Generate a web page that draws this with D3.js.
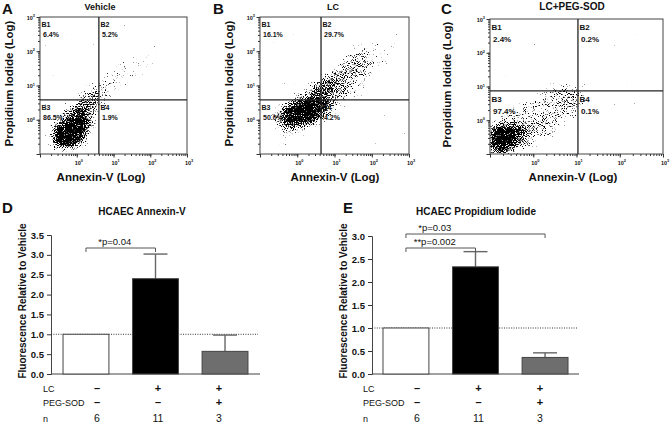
<!DOCTYPE html>
<html lang="en">
<head>
<meta charset="UTF-8">
<title>HCAEC Annexin-V / Propidium Iodide</title>
<script src="https://d3js.org/d3.v7.min.js"></script>
<style>
  body { margin: 0; background: #fff; }
  svg text { font-family: "Liberation Sans", Arial, sans-serif; fill: #111; }
  .tick line { stroke: #333; }
</style>
</head>
<body>
<svg id="fig" width="670" height="424"></svg>
<script>
// ---------- flow cytometry panels (A-C) ----------
const flowTitles = ["Vehicle", "LC", "LC+PEG-SOD"];
const flowLetters = ["A", "B", "C"];
// gate position: [Annexin-V, Propidium Iodide]
const gates = [[4.0, 3.8], [4.35, 3.8], [10.8, 7.4]];
// quadrant percentages B1, B2, B3, B4
const quadNames = ["B1", "B2", "B3", "B4"];
const quadPct = [[6.4, 5.2, 86.5, 1.9], [16.1, 29.7, 50.0, 4.2], [2.4, 0.2, 97.4, 0.1]];

// event density, 0.2-decade cells,
// columns 10^-1 -> 10^3 (left to right), rows 10^3 -> 10^-1 (top to bottom)
const densityA = [
  "00000000000000000000",
  "00000000000000000000",
  "00000000000000000000",
  "00000000000000100000",
  "00000000000001010000",
  "00000000000011110000",
  "00000000001112110000",
  "00000000011221100000",
  "00000001122221000000",
  "00000012232110000000",
  "00000123321100000000",
  "00001345321000000000",
  "00002565210000000000",
  "00136763100000000000",
  "00257862100000000000",
  "01589972000000000000",
  "02899951000000000000",
  "03999830000000000000",
  "02898410000000000000",
  "01232100000000000000"
];
const densityB = [
  "00000000000000000000",
  "00000000000000000010",
  "00000000000000000110",
  "00000000000000111210",
  "00000000000012222110",
  "00000000000133322100",
  "00000000001344322100",
  "00000000013454321000",
  "00000000245543210000",
  "00000013565432100000",
  "00000136665432100000",
  "00001357654321100000",
  "00026899853100000000",
  "00379999741000000000",
  "01589998520000000000",
  "01468763100000000000",
  "01244310000000000000",
  "01121000000000000000",
  "01110000000000000000",
  "01000000000000000000"
];
const densityC = [
  "00000000000000000000",
  "00000000000000000000",
  "00000000000000000000",
  "00000000000000000000",
  "00000000000000000000",
  "00000000000000000000",
  "00000000000000000000",
  "00000000000000000000",
  "00000000000000000000",
  "00000011111000000000",
  "00000123432010000000",
  "00001233443000000000",
  "00122333443000000000",
  "01223333431000000000",
  "02333343320000000000",
  "35544433100000000000",
  "89975332000000000000",
  "99964221000000000000",
  "99853100000000000000",
  "67421000000000000000"
];
const densityGrids = [densityA, densityB, densityC];

// ---------- bar panels (D, E) ----------
const groups = ["Vehicle", "LC", "LC+PEG-SOD"];
const annexinMean = [1.0, 2.40, 0.57];
const annexinErr = [0, 0.62, 0.41];
const piMean = [1.0, 2.33, 0.36];
const piErr = [0, 0.33, 0.10];
const lcRow = ["\u2013", "+", "+"];
const pegRow = ["\u2013", "\u2013", "+"];
const nRow = ["6", "11", "3"];
const barFills = ["#ffffff", "#000000", "#6e6e6e"];

const fig = d3.select("#fig");
const defs = fig.append("defs");

// blurred density -> dotted look (fixed-seed texture, purely a rendering style)
const flt = defs.append("filter").attr("id", "dots")
  .attr("filterUnits", "userSpaceOnUse").attr("x", 0).attr("y", 0)
  .attr("width", 670).attr("height", 424)
  .attr("color-interpolation-filters", "sRGB");
flt.append("feGaussianBlur").attr("in", "SourceGraphic").attr("stdDeviation", 2.4).attr("result", "blur");
flt.append("feTurbulence").attr("type", "fractalNoise").attr("baseFrequency", 0.9)
  .attr("numOctaves", 1).attr("seed", 7).attr("result", "noise");
flt.append("feColorMatrix").attr("in", "noise").attr("type", "matrix")
  .attr("values", "0 0 0 0 0  0 0 0 0 0  0 0 0 0 0  1 0 0 0 0").attr("result", "mask");
flt.append("feComposite").attr("in", "blur").attr("in2", "mask").attr("operator", "arithmetic")
  .attr("k1", 0).attr("k2", 5.4).attr("k3", -10).attr("k4", 2.0).attr("result", "sp");
flt.append("feColorMatrix").attr("in", "sp").attr("type", "matrix")
  .attr("values", "0 0 0 0 0  0 0 0 0 0  0 0 0 0 0  0 0 0 1 0");

const FONT_B = "bold";

// ---------------- A, B, C ----------------
const flowLayout = [
  { x0: 40, x1: 187, y0: 17, y1: 154, letterX: 2, titleX: 100, titleSize: 9, ylabX: 12.5, xlabX: 101, qSize: 7 },
  { x0: 260, x1: 409, y0: 17, y1: 154, letterX: 213, titleX: 333, titleSize: 9, ylabX: 233, xlabX: 335, qSize: 7 },
  { x0: 490, x1: 663, y0: 19, y1: 154, letterX: 441, titleX: 572, titleSize: 10, ylabX: 451, xlabX: 573, qSize: 8 }
];
const gridLo = -1, gridHi = 3, gridStep = 0.2;

function powLabel(sel, exp, fs) {
  sel.append("tspan").text("10");
  sel.append("tspan").attr("dy", -fs * 0.45).attr("font-size", fs * 0.7).text(exp);
}

flowLayout.forEach((L, i) => {
  const g = fig.append("g");
  const x = d3.scaleLog().domain([0.1, 1000]).range([L.x0, L.x1]);
  const y = d3.scaleLog().domain([0.1, 1000]).range([L.y1, L.y0]);

  const cid = "clip" + i;
  defs.append("clipPath").attr("id", cid).append("rect")
    .attr("x", L.x0).attr("y", L.y0).attr("width", L.x1 - L.x0).attr("height", L.y1 - L.y0);

  // density cloud
  const cells = [];
  densityGrids[i].forEach((row, r) => {
    row.split("").forEach((ch, c) => { if (+ch > 0) cells.push({ r, c, v: +ch }); });
  });
  const xv = c => Math.pow(10, gridLo + c * gridStep);
  const yv = r => Math.pow(10, gridHi - r * gridStep);
  g.append("g").attr("clip-path", `url(#${cid})`)
    .append("g").attr("filter", "url(#dots)")
    .selectAll("rect").data(cells).join("rect")
      .attr("x", d => x(xv(d.c)))
      .attr("width", d => x(xv(d.c + 1)) - x(xv(d.c)))
      .attr("y", d => y(yv(d.r)))
      .attr("height", d => y(yv(d.r + 1)) - y(yv(d.r)))
      .attr("fill", "#000")
      .attr("fill-opacity", d => Math.pow(d.v / 9, 0.8));

  // box
  g.append("rect").attr("x", L.x0).attr("y", L.y0)
    .attr("width", L.x1 - L.x0).attr("height", L.y1 - L.y0)
    .attr("fill", "none").attr("stroke", "#444").attr("stroke-width", 1);

  // axes: minor ticks then majors with labels
  const allTicks = x.ticks();
  const majors = allTicks.filter(t => Math.abs(Math.log10(t) - Math.round(Math.log10(t))) < 1e-6);
  const fsTick = 5.5;

  g.append("g").attr("transform", `translate(0,${L.y1})`)
    .call(d3.axisBottom(x).tickValues(allTicks).tickSize(2).tickFormat(""))
    .call(a => a.select(".domain").remove());
  const bx = g.append("g").attr("transform", `translate(0,${L.y1})`)
    .call(d3.axisBottom(x).tickValues(majors).tickSize(3.5).tickFormat(""))
    .call(a => a.select(".domain").remove());
  bx.selectAll(".tick").filter(d => d > 0.5).append("text")
    .attr("y", 10.5).attr("x", 1.5).attr("text-anchor", "middle")
    .attr("font-size", fsTick).attr("font-weight", FONT_B)
    .each(function (d) { powLabel(d3.select(this), Math.round(Math.log10(d)), fsTick); });

  g.append("g").attr("transform", `translate(${L.x0},0)`)
    .call(d3.axisLeft(y).tickValues(allTicks).tickSize(2).tickFormat(""))
    .call(a => a.select(".domain").remove());
  const ly = g.append("g").attr("transform", `translate(${L.x0},0)`)
    .call(d3.axisLeft(y).tickValues(majors).tickSize(3.5).tickFormat(""))
    .call(a => a.select(".domain").remove());
  ly.selectAll(".tick").filter(d => d > 0.5).append("text")
    .attr("x", -5).attr("y", 2).attr("text-anchor", "end")
    .attr("font-size", fsTick).attr("font-weight", FONT_B)
    .each(function (d) { powLabel(d3.select(this), Math.round(Math.log10(d)), fsTick); });

  // quadrant gates
  const gx = x(gates[i][0]), gy = y(gates[i][1]);
  g.append("line").attr("x1", gx).attr("x2", gx).attr("y1", L.y0).attr("y2", L.y1)
    .attr("stroke", "#222").attr("stroke-width", 1.3);
  g.append("line").attr("x1", L.x0).attr("x2", L.x1).attr("y1", gy).attr("y2", gy)
    .attr("stroke", "#222").attr("stroke-width", 1.3);

  const q = L.qSize;
  const anchors = [[L.x0, L.y0], [gx, L.y0], [L.x0, gy], [gx, gy]];
  anchors.forEach((p, k) => {
    g.append("text").attr("x", p[0] + 1.5).attr("y", p[1] + q * 1.4)
      .attr("font-size", q).attr("font-weight", FONT_B).text(quadNames[k]);
    g.append("text").attr("x", p[0] + 3).attr("y", p[1] + q * 2.85)
      .attr("font-size", q).attr("font-weight", FONT_B)
      .text(quadPct[i][k].toFixed(1) + "%");
  });

  // titles and labels
  g.append("text").attr("x", L.letterX).attr("y", 14)
    .attr("font-size", 15).attr("font-weight", FONT_B).text(flowLetters[i]);
  g.append("text").attr("x", L.titleX).attr("y", 10).attr("text-anchor", "middle")
    .attr("font-size", L.titleSize).attr("font-weight", FONT_B).text(flowTitles[i]);
  g.append("text").attr("x", L.xlabX).attr("y", 181).attr("text-anchor", "middle")
    .attr("font-size", 11.5).attr("font-weight", FONT_B).text("Annexin-V (Log)");
  g.append("text").attr("transform", `translate(${L.ylabX},${(L.y0 + L.y1) / 2 - 2}) rotate(-90)`)
    .attr("text-anchor", "middle")
    .attr("font-size", 11.5).attr("font-weight", FONT_B).text("Propidium Iodide (Log)");
});

// ---------------- D, E ----------------
const barPanels = [
  { letter: "D", title: "HCAEC Annexin-V", mean: annexinMean, err: annexinErr,
    ax: 51, xEnd: 260, yMax: 3.5, yTop: 235, y0: 374, pOuter: 0.173,
    letterX: 2, titleX: 142, ylabX: 26, rowX: 43, cols: [97, 219],
    brackets: [{ a: 0, b: 1, y: 248, text: "*p=0.04" }] },
  { letter: "E", title: "HCAEC Propidium Iodide", mean: piMean, err: piErr,
    ax: 372, xEnd: 579, yMax: 3.0, yTop: 236, y0: 374, pOuter: 0.158,
    letterX: 343, titleX: 476, ylabX: 347, rowX: 363, cols: [417, 540],
    brackets: [{ a: 0, b: 2, y: 234, text: "*p=0.03", at: [0, 1] },
               { a: 0, b: 1, y: 248, text: "**p=0.002" }] }
];

barPanels.forEach(P => {
  const g = fig.append("g");
  const x = d3.scaleBand().domain(groups).range([P.ax, P.xEnd])
    .paddingInner(0.34).paddingOuter(P.pOuter);
  const y = d3.scaleLinear().domain([0, P.yMax]).range([P.y0, P.yTop]);
  const cx = k => x(groups[k]) + x.bandwidth() / 2;

  // y axis
  g.append("g").attr("transform", `translate(${P.ax},0)`)
    .call(d3.axisLeft(y).ticks(P.yMax / 0.5).tickSize(4).tickFormat(d3.format(".1f")))
    .call(a => a.select(".domain").attr("stroke", "#444"))
    .call(a => a.selectAll("text").attr("font-size", 9.5).attr("font-weight", FONT_B)
      .attr("font-family", "'Liberation Sans', Arial, sans-serif").attr("fill", "#111"))
    .call(a => a.selectAll(".tick line").attr("stroke", "#444"));
  // x axis line
  g.append("line").attr("x1", P.ax).attr("x2", P.xEnd).attr("y1", P.y0).attr("y2", P.y0)
    .attr("stroke", "#444");

  // reference line at 1.0
  g.append("line").attr("x1", P.ax).attr("x2", P.xEnd - 2)
    .attr("y1", y(1)).attr("y2", y(1))
    .attr("stroke", "#333").attr("stroke-width", 1).attr("stroke-dasharray", "1,1.4");

  // error bars (upper only)
  groups.forEach((grp, k) => {
    if (P.err[k] <= 0) return;
    const top = y(P.mean[k] + P.err[k]);
    g.append("line").attr("x1", cx(k)).attr("x2", cx(k))
      .attr("y1", y(P.mean[k])).attr("y2", top)
      .attr("stroke", "#666").attr("stroke-width", 1.4);
    g.append("line").attr("x1", cx(k) - 12).attr("x2", cx(k) + 12)
      .attr("y1", top).attr("y2", top)
      .attr("stroke", "#666").attr("stroke-width", 1.4);
  });

  // bars
  g.selectAll("rect.bar").data(groups).join("rect").attr("class", "bar")
    .attr("x", d => x(d)).attr("width", x.bandwidth())
    .attr("y", (d, k) => y(P.mean[k]))
    .attr("height", (d, k) => P.y0 - y(P.mean[k]))
    .attr("fill", (d, k) => barFills[k])
    .attr("stroke", "#444").attr("stroke-width", 1);

  // significance brackets
  P.brackets.forEach(b => {
    const xa = cx(b.a), xb = cx(b.b);
    g.append("path")
      .attr("d", `M${xa},${b.y + 4}V${b.y}H${xb}V${b.y + 4}`)
      .attr("fill", "none").attr("stroke", "#555").attr("stroke-width", 1);
    const at = b.at || [b.a, b.b];
    g.append("text").attr("x", (cx(at[0]) + cx(at[1])) / 2 - 6).attr("y", b.y - 3)
      .attr("text-anchor", "middle").attr("font-size", 9.5).text(b.text);
  });

  // treatment table
  const col = d3.scalePoint().domain(groups).range(P.cols);
  const rows = [
    { label: "LC", vals: lcRow, y: 392, bold: true },
    { label: "PEG-SOD", vals: pegRow, y: 406, bold: true },
    { label: "n", vals: nRow, y: 422, bold: false }
  ];
  rows.forEach(r => {
    g.append("text").attr("x", P.rowX).attr("y", r.y).attr("font-size", 9).text(r.label);
    g.selectAll(null).data(groups).join("text")
      .attr("x", d => col(d)).attr("y", r.y).attr("text-anchor", "middle")
      .attr("font-size", r.bold ? 11 : 10.5).attr("font-weight", r.bold ? FONT_B : null)
      .text((d, k) => r.vals[k]);
  });

  // titles
  g.append("text").attr("x", P.letterX).attr("y", 213)
    .attr("font-size", 15).attr("font-weight", FONT_B).text(P.letter);
  g.append("text").attr("x", P.titleX).attr("y", 215).attr("text-anchor", "middle")
    .attr("font-size", 10).attr("font-weight", FONT_B).text(P.title);
  g.append("text").attr("transform", `translate(${P.ylabX},${301}) rotate(-90)`)
    .attr("text-anchor", "middle").attr("font-size", 10).attr("font-weight", FONT_B)
    .text("Fluorescence Relative to Vehicle");
});
</script>
</body>
</html>
